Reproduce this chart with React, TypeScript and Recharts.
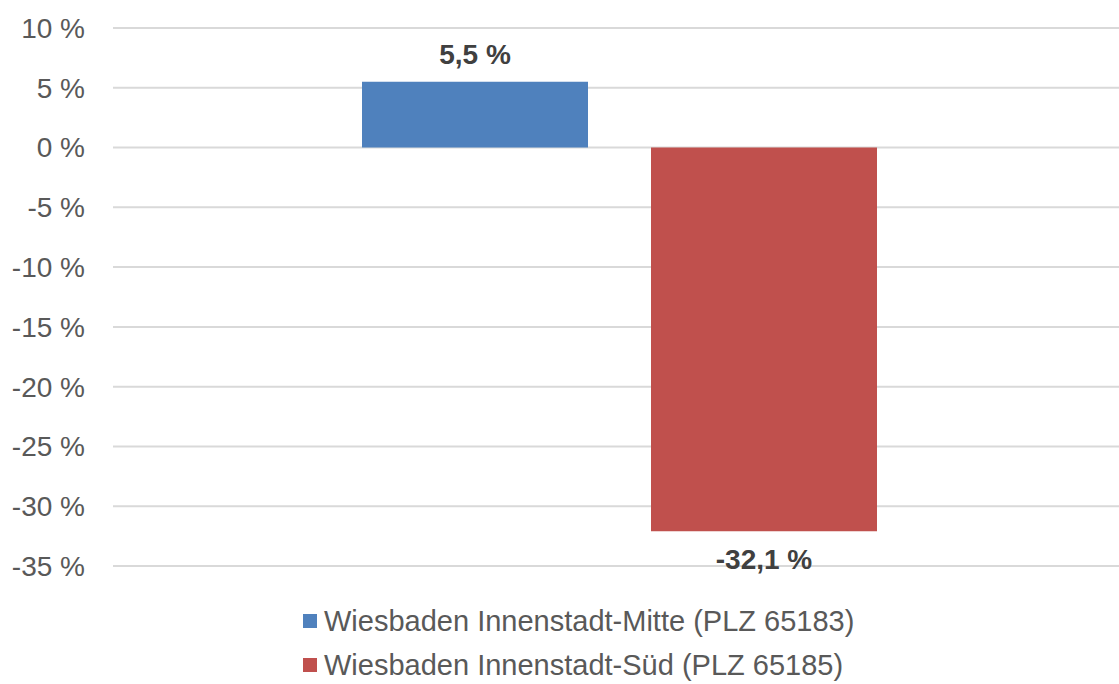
import React from "react";
import { BarChart, Bar, XAxis, YAxis, CartesianGrid, LabelList } from "recharts";

const categories = ["Veränderung"];
const seriesNames = ["Wiesbaden Innenstadt-Mitte (PLZ 65183)", "Wiesbaden Innenstadt-Süd (PLZ 65185)"];
const seriesColors = ["#4f81bd", "#c0504d"];
const mitteValues = [5.5];
const suedValues = [-32.1];
const yTicks = [-35, -30, -25, -20, -15, -10, -5, 0, 5, 10];

const data = categories.map((c, i) => ({ name: c, mitte: mitteValues[i], sued: suedValues[i] }));

const FONT = "'Liberation Sans', Arial, sans-serif";
const fmt = (v: number) => `${String(v).replace(".", ",")} %`;

const BarLabel = (props: any) => {
  const { x, y, width, height, value } = props;
  const top = Math.min(y, y + height);
  const bottom = Math.max(y, y + height);
  const cx = x + width / 2;
  const ty = value >= 0 ? top - 18 : bottom + 38;
  return (
    <text x={cx} y={ty} textAnchor="middle" fontFamily={FONT} fontSize={28} fontWeight="bold" fill="#404040">
      {fmt(value)}
    </text>
  );
};

export default function App() {
  return (
    <div style={{ position: "relative", width: 1119, height: 684, overflow: "hidden" }}>
      <style>{"body{margin:0;background:#fff}"}</style>
      <BarChart width={1119} height={684} data={data} margin={{ top: 28, right: -7, left: 0, bottom: 118 }} barSize={226} barGap={63}>
        <CartesianGrid vertical={false} stroke="#d9d9d9" strokeWidth={2} />
        <XAxis dataKey="name" hide />
        <YAxis
          domain={[-35, 10]}
          ticks={yTicks}
          width={113}
          axisLine={false}
          tickLine={false}
          tickSize={0}
          tickMargin={28}
          tickFormatter={(v: number) => `${v} %`}
          tick={{ fontFamily: FONT, fontSize: 28, fill: "#595959" }}
        />
        <Bar dataKey="mitte" name={seriesNames[0]} fill={seriesColors[0]} isAnimationActive={false}>
          <LabelList dataKey="mitte" content={<BarLabel />} />
        </Bar>
        <Bar dataKey="sued" name={seriesNames[1]} fill={seriesColors[1]} isAnimationActive={false}>
          <LabelList dataKey="sued" content={<BarLabel />} />
        </Bar>
      </BarChart>
      <div style={{ position: "absolute", left: 303, top: 599, fontFamily: FONT, fontSize: 29, color: "#595959" }}>
        {seriesNames.map((n, i) => (
          <div key={n} style={{ display: "flex", alignItems: "center", height: 44 }}>
            <span style={{ display: "inline-block", width: 14, height: 14, background: seriesColors[i], marginRight: 7 }} />
            <span>{n}</span>
          </div>
        ))}
      </div>
    </div>
  );
}
